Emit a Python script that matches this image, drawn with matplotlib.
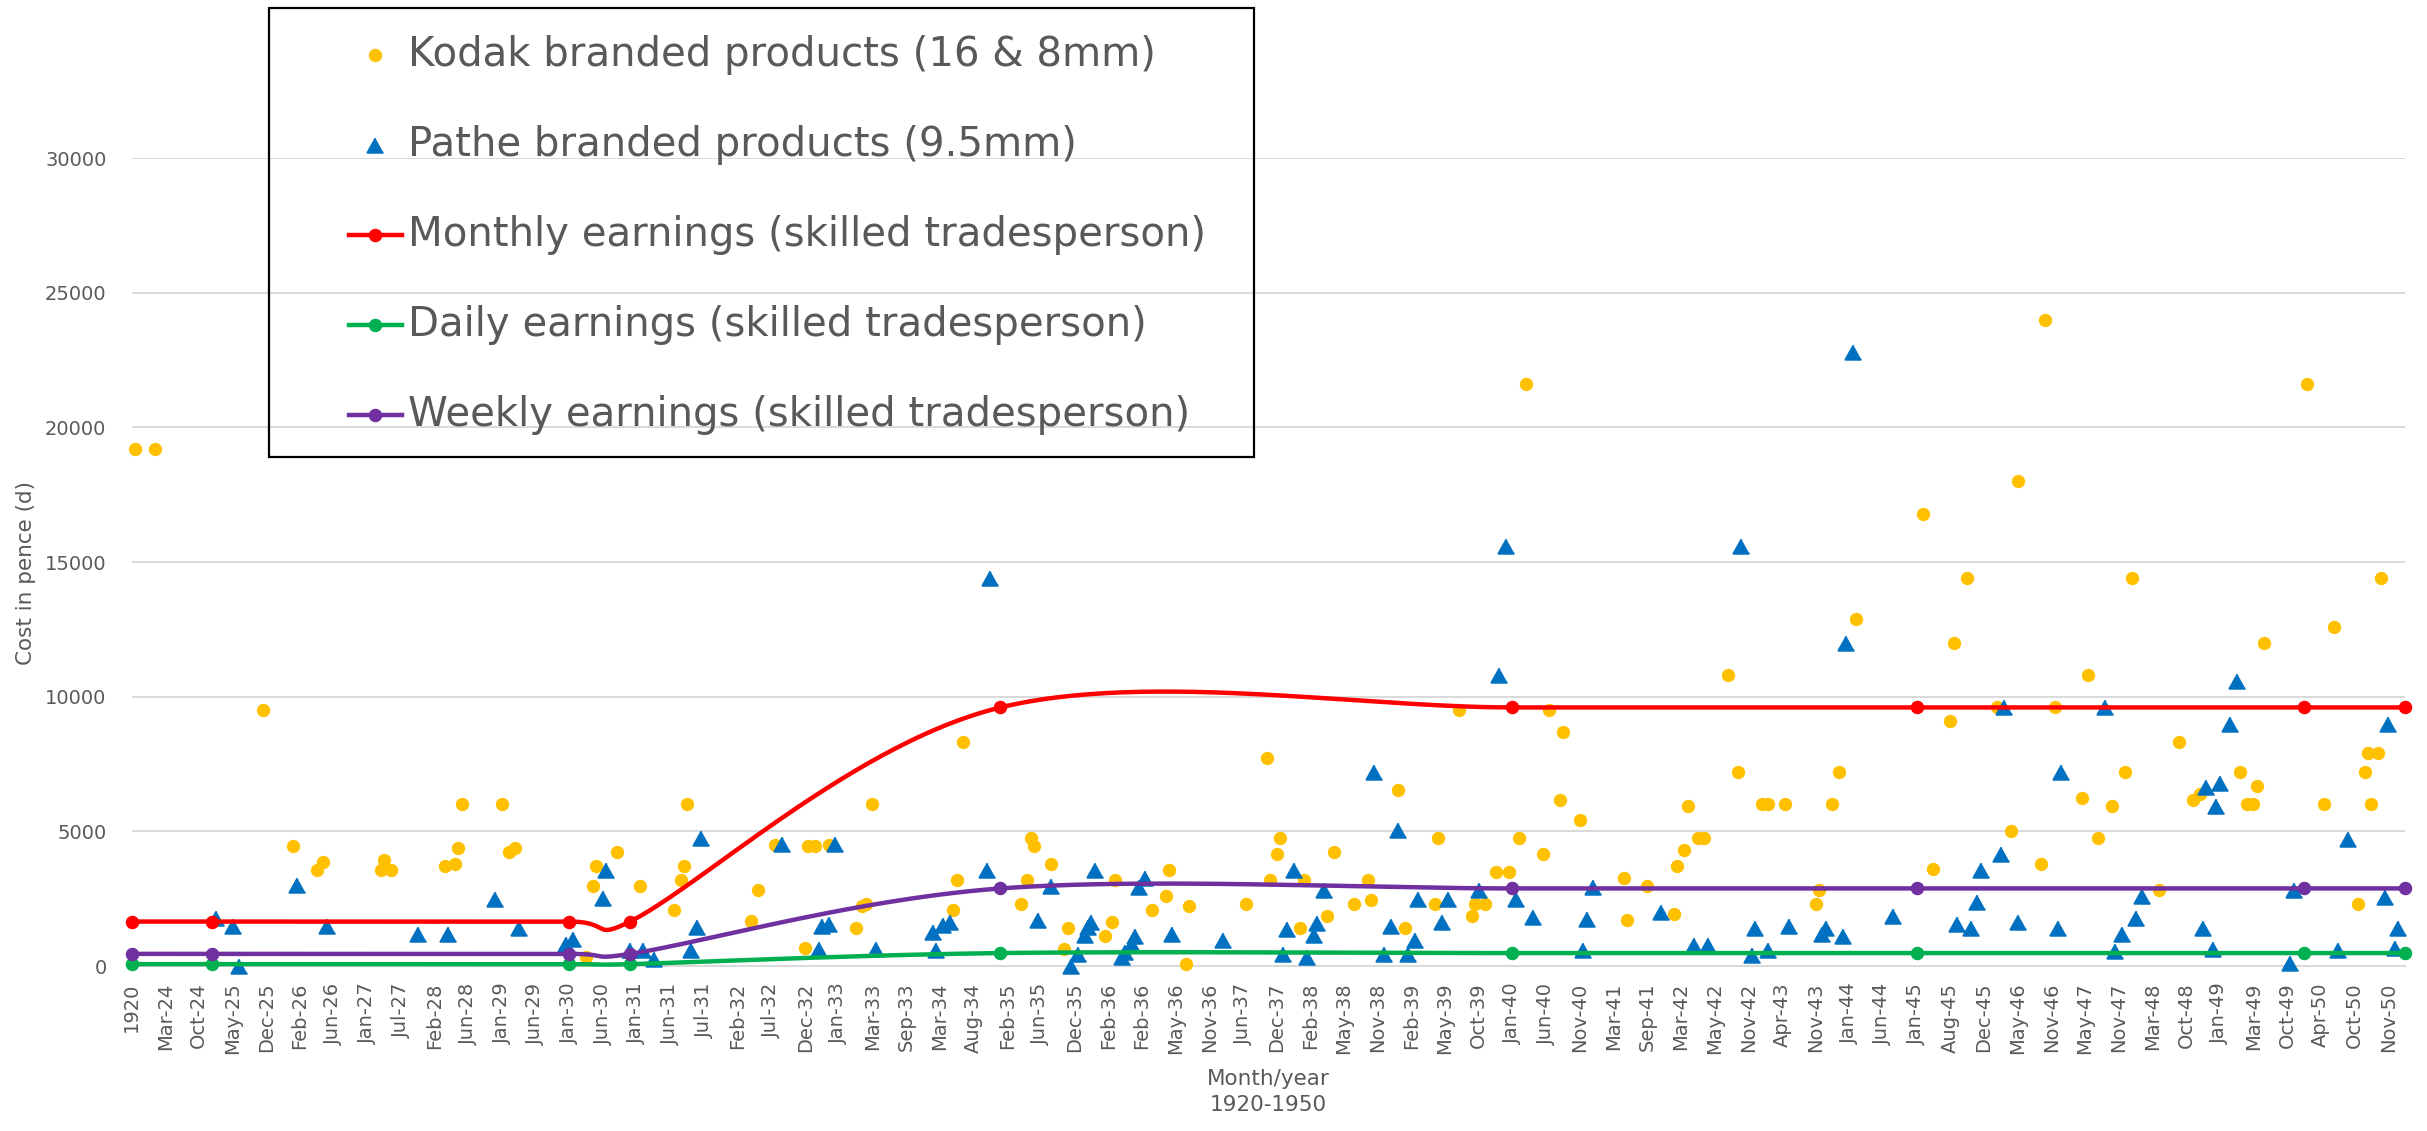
import numpy as np
import matplotlib
matplotlib.use('Agg')
import matplotlib.pyplot as plt
from matplotlib.lines import Line2D
from matplotlib.markers import MarkerStyle
from matplotlib.patches import Rectangle

plt.rcParams.update({'font.family': 'DejaVu Sans', 'font.size': 14})

# category labels (one label every 10 rows of the sheet)
tick_labels = ['1920', 'Mar-24', 'Oct-24', 'May-25', 'Dec-25', 'Feb-26', 'Jun-26', 'Jan-27',
               'Jul-27', 'Feb-28', 'Jun-28', 'Jan-29', 'Jun-29', 'Jan-30', 'Jun-30', 'Jan-31',
               'Jun-31', 'Jul-31', 'Feb-32', 'Jul-32', 'Dec-32', 'Jan-33', 'Mar-33', 'Sep-33',
               'Mar-34', 'Aug-34', 'Feb-35', 'Jun-35', 'Dec-35', 'Feb-36', 'Feb-36', 'May-36',
               'Nov-36', 'Jun-37', 'Dec-37', 'Feb-38', 'May-38', 'Nov-38', 'Feb-39', 'May-39',
               'Oct-39', 'Jan-40', 'Jun-40', 'Nov-40', 'Mar-41', 'Sep-41', 'Mar-42', 'May-42',
               'Nov-42', 'Apr-43', 'Nov-43', 'Jan-44', 'Jun-44', 'Jan-45', 'Aug-45', 'Dec-45',
               'May-46', 'Nov-46', 'May-47', 'Nov-47', 'Mar-48', 'Oct-48', 'Jan-49', 'Mar-49',
               'Oct-49', 'Apr-50', 'Oct-50', 'Nov-50']
label_step = 10
n_rows = 676

# Kodak branded products (row index, cost in pence)
kodak_x = [1, 7, 39, 48, 55, 57, 74, 75, 77, 93, 96, 97, 98, 110, 112, 114, 135, 137, 138, 144,
           151, 161, 163, 164, 165, 184, 186, 191, 200, 201, 203, 207, 215, 217, 218, 220, 244,
           245, 247, 264, 266, 267, 268, 273, 277, 278, 289, 291, 292, 303, 307, 308, 313, 314,
           331, 337, 338, 340, 341, 347, 348, 355, 357, 363, 367, 368, 376, 378, 387, 388, 394,
           398, 399, 402, 405, 409, 412, 414, 419, 421, 424, 425, 430, 443, 444, 450, 458, 459,
           461, 462, 465, 467, 474, 477, 484, 486, 491, 500, 501, 505, 507, 512, 532, 535, 540,
           541, 545, 554, 558, 560, 567, 568, 571, 579, 581, 584, 588, 592, 594, 602, 608, 612,
           614, 626, 628, 630, 631, 633, 646, 651, 654, 661, 663, 664, 665, 667, 668]
kodak_y = [19200, 19200, 9500, 4450, 3550, 3860, 3550, 3950, 3550, 3710, 3800, 4380, 6000, 6000,
           4230, 4390, 330, 2970, 3710, 4230, 2970, 2080, 3190, 3710, 6000, 1660, 2820, 4480, 670,
           4450, 4450, 4480, 1410, 2220, 2310, 6000, 2080, 3190, 8320, 2310, 3190, 4750, 4450,
           3800, 620, 1410, 1110, 1630, 3190, 2080, 2600, 3550, 90, 2230, 2310, 7720, 3190, 4160,
           4750, 1410, 3190, 1860, 4230, 2310, 3190, 2450, 6540, 1410, 2310, 4750, 9500, 1860,
           2310, 2310, 3490, 3490, 4750, 21600, 4160, 9500, 6160, 8690, 5420, 3270, 1710, 2970,
           1930, 3710, 4310, 5940, 4750, 4750, 10800, 7200, 6000, 6000, 6000, 2310, 2820, 6000,
           7200, 12900, 16800, 3600, 9100, 12000, 14400, 9600, 5000, 18000, 3800, 24000, 9600,
           6240, 10800, 4750, 5940, 7200, 14400, 2820, 8320, 6180, 6400, 7200, 6000, 6000, 6680,
           12000, 21600, 6000, 12600, 2310, 7200, 7900, 6000, 7900, 14400]

# Pathe branded products (row index, cost in pence)
pathe_x = [25, 30, 32, 49, 58, 85, 94, 108, 115, 129, 131, 140, 141, 148, 152, 155, 166, 168,
           169, 193, 204, 205, 207, 209, 221, 238, 239, 241, 243, 254, 255, 269, 273, 279, 281,
           283, 284, 285, 286, 294, 295, 297, 298, 299, 301, 309, 324, 342, 343, 345, 349, 351,
           352, 354, 369, 372, 374, 376, 379, 381, 382, 389, 391, 400, 406, 408, 411, 416, 431,
           432, 434, 454, 464, 468, 478, 481, 482, 486, 492, 502, 503, 508, 509, 511, 523, 542,
           546, 548, 549, 555, 556, 560, 572, 573, 586, 589, 591, 595, 597, 615, 616, 618, 619,
           620, 623, 625, 641, 642, 655, 658, 669, 670, 672, 673]
pathe_y = [1800, 1500, 0, 3000, 1500, 1200, 1200, 2500, 1410, 800, 1020, 2520, 3550, 600, 600,
           270, 580, 1450, 4750, 4540, 640, 1470, 1570, 4540, 640, 1260, 580, 1510, 1630, 3550,
           14400, 1700, 2970, 0, 460, 1140, 1450, 1630, 3550, 330, 520, 830, 1100, 2930, 3280,
           1200, 980, 460, 1390, 3550, 330, 1140, 1600, 2810, 7200, 460, 1470, 5040, 460, 950,
           2500, 1630, 2500, 2810, 10800, 15600, 2500, 1820, 580, 1760, 2930, 2000, 770, 770,
           15600, 420, 1410, 580, 1470, 1180, 1410, 1100, 12000, 22800, 1840, 1550, 1410, 2380,
           3550, 4150, 9600, 1630, 1410, 7200, 9600, 550, 1180, 1780, 2590, 1410, 6650, 640, 5930,
           6810, 9000, 10600, 100, 2810, 610, 4730, 2560, 9000, 680, 1410]

# earnings of a skilled tradesperson
earn_x = [0, 24, 130, 148, 258, 410, 530, 645, 675]
monthly = [1650, 1650, 1650, 1650, 9600, 9600, 9600, 9600, 9600]
weekly = [450, 450, 450, 450, 2880, 2880, 2880, 2880, 2880]
daily = [70, 70, 70, 70, 480, 480, 480, 480, 480]

W, H = 2427, 1131
ax_l, ax_r, ax_b, ax_t = 131.5, 2405, 966, 158
ymax = 30000
sx = (ax_r - ax_l) / (n_rows - 1)
sy = (ax_b - ax_t) / ymax


def smooth(xs, ys, n=60):
    # bezier smoothing done in screen pixels, like the spreadsheet does it
    P = np.column_stack([np.array(xs) * sx, np.array(ys) * sy])
    pts = [P[0]]
    for i in range(len(P) - 1):
        p0, p1, p2 = P[max(i - 1, 0)], P[i], P[i + 1]
        p3 = P[min(i + 2, len(P) - 1)]
        seg = np.hypot(*(p2 - p1))
        t1, t2 = (p2 - p0) / 6, (p3 - p1) / 6
        for t in (t1, t2):
            ln = np.hypot(*t)
            if ln > 0.7 * seg:
                t *= 0.7 * seg / ln
        c1, c2 = p1 + t1, p2 - t2
        for t in np.linspace(0, 1, n)[1:]:
            pts.append((1 - t) ** 3 * p1 + 3 * (1 - t) ** 2 * t * c1
                       + 3 * (1 - t) * t ** 2 * c2 + t ** 3 * p2)
    pts = np.array(pts)
    return pts[:, 0] / sx, pts[:, 1] / sy


fig = plt.figure(figsize=(W / 100, H / 100), dpi=100)
ax = fig.add_axes([ax_l / W, 1 - ax_b / H, (ax_r - ax_l) / W, (ax_b - ax_t) / H])

grey = '#595959'
tri = MarkerStyle([(0, 0.9), (-1, -0.9), (1, -0.9)], joinstyle='round')

ax.scatter(kodak_x, kodak_y, s=92, color='#FFC000', linewidths=0, zorder=3, clip_on=False)
ax.plot(pathe_x, pathe_y, ls='none', marker=tri, ms=11.5, mfc='#0070C0', mec='#0070C0',
        mew=1.5, zorder=4, clip_on=False)

series = [(monthly, '#FF0000', 'Monthly earnings (skilled tradesperson)'),
          (daily, '#00B050', 'Daily earnings (skilled tradesperson)'),
          (weekly, '#7030A0', 'Weekly earnings (skilled tradesperson)')]
for vals, col, name in series:
    xs, ys = smooth(earn_x, vals)
    ax.plot(xs, ys, color=col, lw=3.2, zorder=5, solid_capstyle='round', clip_on=False)
    ax.plot(earn_x, vals, 'o', ms=8.7, color=col, zorder=6, clip_on=False)

ax.set_xlim(0, n_rows - 1)
ax.set_ylim(0, ymax)
ax.set_yticks(np.arange(0, ymax + 1, 5000))
ax.set_xticks(np.arange(len(tick_labels)) * label_step)
ax.set_xticklabels(tick_labels, rotation=90)
ax.tick_params(axis='x', length=0, pad=12, colors=grey, labelsize=14)
ax.tick_params(axis='y', length=0, pad=18, colors=grey, labelsize=14)
ax.yaxis.grid(True, color='#D9D9D9', lw=1.4)
ax.set_axisbelow(True)
for s in ['left', 'right', 'top']:
    ax.spines[s].set_visible(False)
ax.spines['bottom'].set_color('#D9D9D9')
ax.spines['bottom'].set_linewidth(1.4)

ax.set_xlabel('Month/year\n1920-1950', color=grey, fontsize=15.5, linespacing=1.35)
ax.xaxis.set_label_coords(0.5, -0.128)
ax.set_ylabel('Cost in pence (d)', color=grey, fontsize=15.5)
ax.yaxis.set_label_coords(-0.042, 0.486)

# legend box drawn by hand (Excel layout, no fill)
fig.patches.append(Rectangle((269 / W, 1 - 457 / H), (1254 - 269) / W, (457 - 8) / H,
                             transform=fig.transFigure, fill=False, ec='black', lw=1.6,
                             zorder=10))
leg_rows = [('Kodak branded products (16 & 8mm)', None, 'o', '#FFC000'),
            ('Pathe branded products (9.5mm)', None, tri, '#0070C0'),
            (series[0][2], '#FF0000', 'o', '#FF0000'),
            (series[1][2], '#00B050', 'o', '#00B050'),
            (series[2][2], '#7030A0', 'o', '#7030A0')]
for k, (txt, lcol, mk, mcol) in enumerate(leg_rows):
    yy = 1 - (55 + 90 * k) / H
    if lcol:
        fig.add_artist(Line2D([349 / W, 402 / W], [yy, yy], color=lcol, lw=3.2,
                              transform=fig.transFigure))
        fig.add_artist(Line2D([375 / W], [yy], marker=mk, ms=8.7, color=mcol, ls='none',
                              transform=fig.transFigure))
    else:
        ms = 9.6 if mk == 'o' else 11.5
        fig.add_artist(Line2D([375 / W], [yy], marker=mk, ms=ms, mfc=mcol, mec=mcol,
                              mew=0 if mk == 'o' else 1.5, ls='none',
                              transform=fig.transFigure))
    fig.text(408 / W, yy, txt, fontsize=29, color=grey, va='center', ha='left')

fig.savefig('out.png', dpi=100)
